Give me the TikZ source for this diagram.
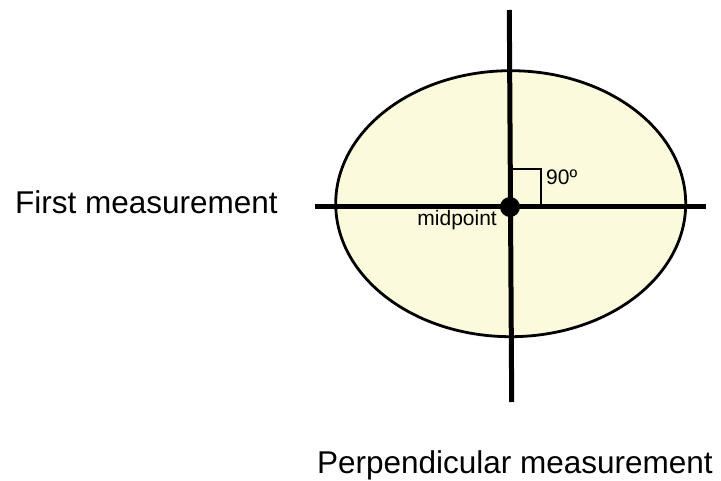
\documentclass[tikz,border=0pt]{standalone}
\usepackage{fontspec}
\setmainfont{Liberation Sans}
\definecolor{eggfill}{RGB}{252,250,220}
\begin{document}
\begin{tikzpicture}[x=1pt,y=-1pt,
  axis/.style={line width=5pt},
  outline/.style={line width=2.8pt},
  bigtext/.style={font=\fontsize{31.5}{36}\selectfont, inner sep=0pt},
  smalltext/.style={font=\fontsize{21}{24}\selectfont, inner sep=0pt}]
\useasboundingbox (0,0) rectangle (721,481);
\draw[outline, fill=eggfill] (510.7,203.7) ellipse [x radius=175, y radius=133];
\coordinate (hl) at (315,207);
\coordinate (hr) at (706,207);
\coordinate (vt) at (509.3,10);
\coordinate (vb) at (511.7,402);
\coordinate (mid) at (510,207);
\draw[axis] (hl) -- (hr);
\draw[axis] (vt) -- (vb);
\draw[outline] (mid) ++(0,-38) -- ++(31,0) -- ++(0,38);
\fill (mid) circle [radius=10];
\node[bigtext, anchor=base east] (first) at (278,214) {First measurement};
\node[bigtext, anchor=base east] (perp) at (713,473.5) {Perpendicular measurement};
\node[smalltext, anchor=base east] (midlbl) at (497,226) {midpoint};
\node[smalltext, anchor=base west] (ninety) at (546,185) {90º};
\end{tikzpicture}
\end{document}
